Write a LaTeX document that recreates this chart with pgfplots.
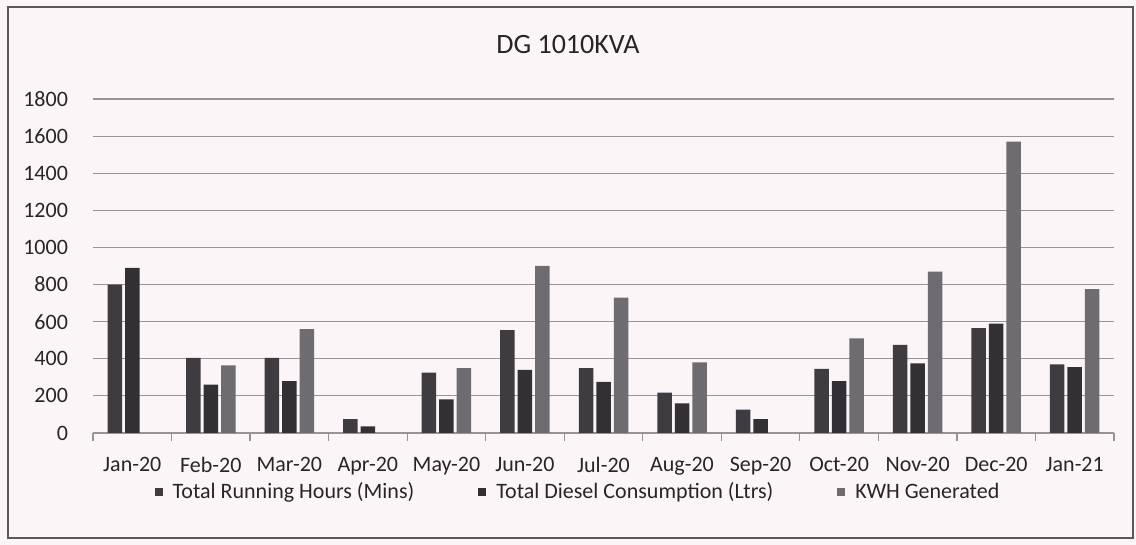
\documentclass[border=0pt]{standalone}
\usepackage{pgfplots}
\pgfplotsset{compat=1.18}
\usepackage{fontspec}
\setmainfont{Carlito}
\definecolor{bg}{RGB}{252,245,247}
\definecolor{sA}{RGB}{62,60,64}
\definecolor{sB}{RGB}{50,48,52}
\definecolor{sC}{RGB}{110,108,112}
\definecolor{gridc}{RGB}{150,148,150}
\begin{document}
\begin{tikzpicture}[x=1pt,y=1pt]
\fill[bg] (0,0) rectangle (568,272.5);
\useasboundingbox (0,0) rectangle (568,272.5);
\draw[color=black!65, line width=0.8pt] (4,3.5) rectangle (566.5,269);
\node[font=\fontsize{14}{16}\selectfont, text=black!85] at (284,250) {DG 1010KVA};
\begin{axis}[
  at={(46.5pt,56pt)}, anchor=south west, scale only axis,
  width=510.5pt, height=167pt,
  ymin=0, ymax=1800, ytick={0,200,...,1800},
  xmin=-0.5, xmax=12.5,
  xtick={0,...,12},
  xticklabels={Jan-20,Feb-20,Mar-20,Apr-20,May-20,Jun-20,Jul-20,Aug-20,Sep-20,Oct-20,Nov-20,Dec-20,Jan-21},
  minor xtick={-0.5,0.5,...,12.5},
  ybar=1.5pt, bar width=7.25pt,
  ymajorgrids, grid style={gridc, line width=0.6pt},
  axis lines*=left,
  x axis line style={gridc, line width=0.6pt},
  y axis line style={draw=none},
  major tick length=0pt, minor tick length=4pt, tick align=outside,
  minor tick style={gridc, line width=0.6pt},
  ytick style={draw=none},
  tick label style={font=\fontsize{11}{13}\selectfont, text=black!85},
  /pgf/number format/assume math mode=true,
  /pgf/number format/1000 sep={},
  yticklabel style={xshift=-9pt},
  xticklabel style={yshift=-8.5pt},
  legend columns=3,
  legend style={draw=none, fill=none, at={(0.476,-0.177)}, anchor=center,
    font=\fontsize{11}{13}\selectfont, text=black!85,
    /tikz/every odd column/.append style={column sep=3pt},
    /tikz/every even column/.append style={column sep=30pt}},
  legend image code/.code={\fill[#1] (0pt,-2pt) rectangle (4pt,2pt);},
]
\addplot[fill=sA, draw=none] coordinates {(0,800) (1,405) (2,405) (3,75) (4,325) (5,555) (6,350) (7,217) (8,126) (9,345) (10,475) (11,565) (12,370)};
\addplot[fill=sB, draw=none] coordinates {(0,890) (1,260) (2,280) (3,35) (4,181) (5,340) (6,275) (7,160) (8,75) (9,280) (10,375) (11,590) (12,355)};
\addplot[fill=sC, draw=none] coordinates {(1,365) (2,560) (4,350) (5,900) (6,730) (7,380) (9,510) (10,870) (11,1570) (12,775)};
\legend{Total Running Hours (Mins), Total Diesel Consumption (Ltrs), KWH Generated}
\end{axis}
\end{tikzpicture}
\end{document}
